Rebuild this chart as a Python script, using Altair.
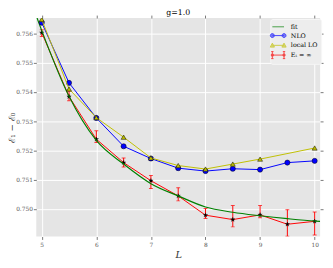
import altair as alt
import pandas as pd

# ---- data ----
L_all = [5, 5.5, 6, 6.5, 7, 7.5, 8, 8.5, 9, 9.5, 10]
nlo = [0.75637, 0.75431, 0.75311, 0.75214, 0.75172, 0.75139, 0.75129, 0.75137, 0.75134, 0.75158, 0.75164]

L_lo = [5, 5.5, 6, 6.5, 7, 7.5, 8, 8.5, 9, 10]
local_lo = [0.75648, 0.75410, 0.75312, 0.75245, 0.75174, 0.75148, 0.75136, 0.75153, 0.75170, 0.75208]

et_inf = [0.75603, 0.75384, 0.75238, 0.75158, 0.75096, 0.75044, 0.74978, 0.74963, 0.74979, 0.74947, 0.74957]
et_low = [0.75590, 0.75370, 0.75227, 0.75143, 0.75069, 0.75027, 0.74967, 0.74938, 0.74969, 0.74906, 0.74910]
et_high = [0.75613, 0.75403, 0.75267, 0.75174, 0.75114, 0.75072, 0.75001, 0.75011, 0.75011, 0.74997, 0.74989]

L_fit = [4.9, 5, 5.5, 6, 6.5, 7, 7.5, 8, 8.5, 9, 9.5, 10, 10.1]
fit = [0.7566, 0.7561, 0.75385, 0.75234, 0.75153, 0.75086, 0.75044, 0.75006, 0.74988, 0.74976, 0.74966, 0.74958, 0.74957]

x_ticks = [5, 6, 7, 8, 9, 10]
y_ticks = [0.750, 0.751, 0.752, 0.753, 0.754, 0.755, 0.756]

series = ["fit", "NLO", "local LO", "Eₜ = ∞"]

et_df = pd.DataFrame({"L": L_all, "v": et_inf, "lo": et_low, "hi": et_high})
nlo_df = pd.DataFrame({"L": L_all, "v": nlo})
lo_df = pd.DataFrame({"L": L_lo, "v": local_lo})
fit_df = pd.DataFrame({"L": L_fit, "v": fit})
leg_df = pd.DataFrame({"series": series, "L": [3.0] * 4, "v": [0.753] * 4})

SERIF = "DejaVu Serif"
GRAY = "#555555"

xs = alt.Scale(domain=[4.9, 10.1], nice=False, zero=False)
ys = alt.Scale(domain=[0.74905, 0.75653], nice=False, zero=False)

x_axis = alt.Axis(
    values=x_ticks, format="d", grid=True, gridColor="white", gridWidth=1,
    domain=False, tickSize=3, tickColor=GRAY, tickWidth=0.8, labelPadding=2,
    labelFont=SERIF, labelFontSize=6, labelColor=GRAY,
    title="L", titleFont=SERIF, titleFontStyle="italic", titleFontWeight="normal",
    titleFontSize=10, titleColor="#333333", titleY=19, titleBaseline="middle")
y_axis = alt.Axis(
    values=y_ticks, format=".3f", grid=True, gridColor="white", gridWidth=1,
    domain=False, tickSize=3, tickColor=GRAY, tickWidth=0.8, labelPadding=1,
    labelFont=SERIF, labelFontSize=6, labelColor=GRAY,
    title="ℰ₁ − ℰ₀", titleFont=SERIF, titleFontWeight="normal", titleFontSize=9,
    titleColor="#333333", titleX=-25, titleY=112, titleAngle=-90,
    titleBaseline="middle", titleAlign="center")

xn = alt.X("L:Q", scale=xs, axis=None)
yn = alt.Y("v:Q", scale=ys, axis=None)

star = "M0,-1L0.24,-0.32L0.95,-0.31L0.38,0.12L0.59,0.81L0,0.4L-0.59,0.81L-0.38,0.12L-0.95,-0.31L-0.24,-0.32Z"

# error bars
bars = alt.Chart(et_df).mark_rule(color="red", strokeWidth=1, clip=True).encode(
    x=alt.X("L:Q", scale=xs, axis=x_axis), y=alt.Y("lo:Q", scale=ys, axis=y_axis), y2="hi:Q")
caps = alt.Chart(et_df).transform_fold(["lo", "hi"], as_=["k", "c"]).mark_tick(
    color="red", thickness=1, size=4, orient="horizontal", clip=True).encode(
    x=xn, y=alt.Y("c:Q", scale=ys, axis=None))
et_line = alt.Chart(et_df).mark_line(color="red", strokeWidth=1, clip=True).encode(x=xn, y=yn)
et_pts = alt.Chart(et_df).mark_point(shape=star, filled=True, fill="black", stroke="black",
                                     strokeWidth=0.3, size=22, opacity=1, clip=True).encode(x=xn, y=yn)

fit_line = alt.Chart(fit_df).mark_line(color="#008000", strokeWidth=1.2,
                                       interpolate="monotone", clip=True).encode(x=xn, y=yn)

nlo_line = alt.Chart(nlo_df).mark_line(color="#0000FF", strokeWidth=1, clip=True).encode(x=xn, y=yn)
nlo_pts = alt.Chart(nlo_df).mark_point(shape="circle", filled=True, fill="#0000FF", stroke="black",
                                       strokeWidth=0.5, size=28, opacity=1, clip=True).encode(x=xn, y=yn)

lo_line = alt.Chart(lo_df).mark_line(color="#BFBF00", strokeWidth=1, clip=True).encode(x=xn, y=yn)
lo_pts = alt.Chart(lo_df).mark_point(shape="triangle-up", filled=True, fill="#BFBF00", stroke="black",
                                     strokeWidth=0.5, size=26, opacity=1, clip=True).encode(x=xn, y=yn)

# legend symbols (custom paths imitating matplotlib handles)
p_fit = "M-1.33,0H1.33"
p_nlo = ("M-1.33,0H1.33M-1.78,0A0.45,0.45 0 1,0 -0.88,0A0.45,0.45 0 1,0 -1.78,0Z"
         "M0.88,0A0.45,0.45 0 1,0 1.78,0A0.45,0.45 0 1,0 0.88,0Z")
p_lo = "M-1.33,0H1.33M-1.33,-0.5L-0.85,0.4L-1.81,0.4ZM1.33,-0.5L1.81,0.4L0.85,0.4Z"
p_et = ("M-1.33,0H1.33M-1.33,-0.8V0.8M-1.6,-0.8H-1.06M-1.6,0.8H-1.06"
        "M1.33,-0.8V0.8M1.06,-0.8H1.6M1.06,0.8H1.6"
        "M-1.55,-0.22H-1.11V0.22H-1.55ZM1.11,-0.22H1.55V0.22H1.11Z")

leg = alt.Legend(title=None, orient="none", legendX=240, legendY=1, padding=3,
                 rowPadding=0, symbolSize=81, symbolStrokeWidth=1, labelOffset=8,
                 labelFont=SERIF, labelFontSize=6.5, labelColor="black",
                 fillColor="#EDEDED", strokeColor="#F6F6F6", cornerRadius=2)
legend_layer = alt.Chart(leg_df).mark_point(filled=True, size=81, strokeWidth=1, clip=True).encode(
    x=xn, y=yn,
    fill=alt.Fill("series:N", sort=series, scale=alt.Scale(domain=series, range=["transparent", "#0000FF", "#BFBF00", "black"]), legend=leg),
    stroke=alt.Stroke("series:N", sort=series, scale=alt.Scale(domain=series, range=["#008000", "#0000FF", "#BFBF00", "red"]), legend=leg),
    shape=alt.Shape("series:N", sort=series, scale=alt.Scale(domain=series, range=[p_fit, p_nlo, p_lo, p_et]), legend=leg),
)

# top/right ticks
ticks_layer = alt.Chart(fit_df).mark_line(opacity=0).encode(
    x=alt.X("L:Q", scale=xs, axis=alt.Axis(orient="top", values=x_ticks, labels=False, grid=False,
                                           domain=False, tickSize=3, tickColor=GRAY, tickWidth=0.8, title=None)),
    y=alt.Y("v:Q", scale=ys, axis=alt.Axis(orient="right", values=y_ticks, labels=False, grid=False,
                                           domain=False, tickSize=3, tickColor=GRAY, tickWidth=0.8, title=None)),
)

chart = alt.layer(
    bars, caps, et_line, et_pts, fit_line, nlo_line, nlo_pts, lo_line, lo_pts, legend_layer, ticks_layer
).resolve_axis(x="independent", y="independent").properties(
    width=291, height=224,
    autosize=alt.AutoSizeParams(type="none"),
    padding={"left": 29, "top": 7, "right": 5, "bottom": 29},
    title=alt.Title("g=1.0", font=SERIF, fontSize=8, fontWeight="normal", color="black",
                    anchor="middle", offset=0, baseline="alphabetic", dy=8),
).configure_view(stroke=None, fill="#E5E5E5")

chart.save("out.html", embed_options={"renderer": "svg", "actions": False})
